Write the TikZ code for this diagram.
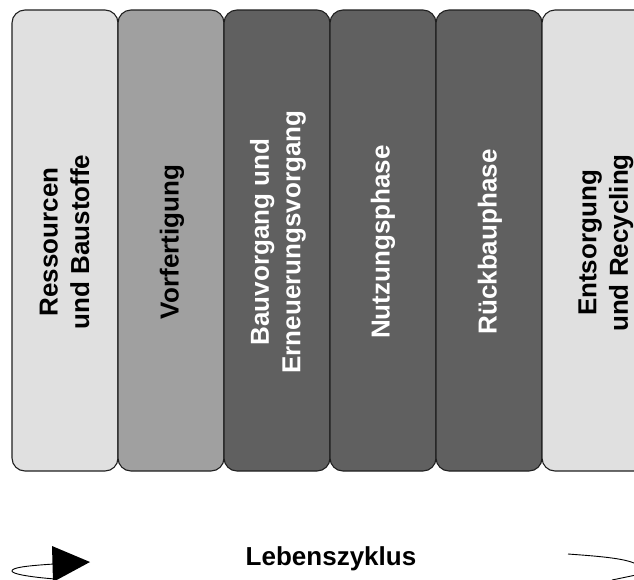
\documentclass[tikz,border=0pt]{standalone}
\usepackage{fontspec}
\setmainfont{Liberation Sans}
\definecolor{cLight}{HTML}{E0E0E0}
\definecolor{cMid}{HTML}{A0A0A0}
\definecolor{cDark}{HTML}{606060}
\definecolor{cStroke}{HTML}{202020}
\tikzset{
  phasebox/.style={draw=cStroke, line width=1.1pt, rounded corners=13pt, minimum height=461pt, inner sep=0pt, outer sep=0pt},
  phasetext/.style={rotate=90, align=center, font=\fontsize{26}{31.5}\selectfont\bfseries, inner sep=0pt},
  loopline/.style={draw=black, line width=0.9pt},
}
\begin{document}
\begin{tikzpicture}[x=1pt, y=-1pt]
\useasboundingbox (0,0) rectangle (634,579);
\clip (0,0) rectangle (634,579);
\fill[white] (0,0) rectangle (634,579);
% phase boxes
\node[phasebox, fill=cLight, minimum width=106pt] (b1) at (65,240.5) {};
\node[phasebox, fill=cMid, minimum width=106pt] (b2) at (171,240.5) {};
\node[phasebox, fill=cDark, minimum width=106pt] (b3) at (277,240.5) {};
\node[phasebox, fill=cDark, minimum width=106pt] (b4) at (383,240.5) {};
\node[phasebox, fill=cDark, minimum width=106pt] (b5) at (489,240.5) {};
\node[phasebox, fill=cLight, minimum width=122pt] (b6) at (603,240.5) {};
% texts
\node[phasetext, text=black] (t1) at (64.5,242) {Ressourcen\\und Baustoffe};
\node[phasetext, text=black] (t2) at (172,242) {Vorfertigung};
\node[phasetext, text=white] (t3) at (278,242) {Bauvorgang und\\Erneuerungsvorgang};
\node[phasetext, text=white] (t4) at (383,242) {Nutzungsphase};
\node[phasetext, text=white] (t5) at (490,242) {Rückbauphase};
\node[phasetext, text=black] (t6) at (606,243) {Entsorgung\\und Recycling};
% life cycle
\node[font=\fontsize{26}{30}\selectfont\bfseries, anchor=base, inner sep=0pt] (lz) at (331,565) {Lebenszyklus};
\coordinate (la) at (54,564);
\coordinate (lb) at (55,579);
\draw[loopline] (la) .. controls (22,566) and (12,568) .. (12,571) .. controls (12,574) and (30,577) .. (lb);
\fill[black] (52,546) -- (90,562) -- (53,582) -- cycle;
\coordinate (ra) at (568,554);
\coordinate (rb) at (636,564);
\draw[loopline] (ra) .. controls (595,556) and (625,558) .. (rb);
\coordinate (rc) at (612,580);
\coordinate (rd) at (636,575);
\draw[loopline] (rc) -- (rd);
\end{tikzpicture}
\end{document}
